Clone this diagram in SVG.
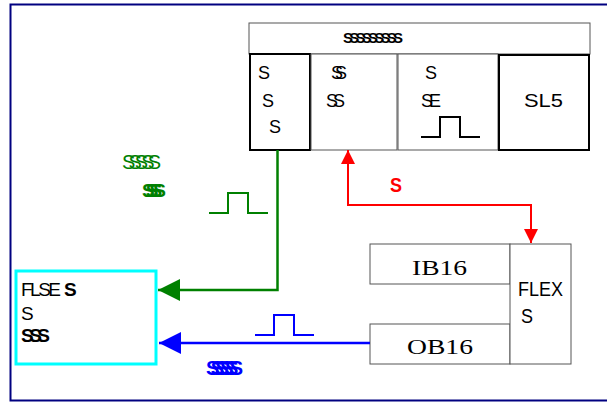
<svg xmlns="http://www.w3.org/2000/svg" width="607" height="402" viewBox="0 0 607 402">
<style>
text{font-family:"Liberation Sans",Arial,sans-serif}
.thick{fill:#fff;stroke:#000;stroke-width:2}
.gr{fill:#fff;stroke:#555;stroke-width:1}
.serif{font-family:"Liberation Serif","Times New Roman",serif}
</style>
<defs>
<marker id="ag" viewBox="0 0 10 10" refX="10" refY="5" markerWidth="23" markerHeight="22" markerUnits="userSpaceOnUse" orient="auto"><path d="M0,0L10,5L0,10z" fill="#008000"/></marker>
<marker id="ab" viewBox="0 0 10 10" refX="10" refY="5" markerWidth="23" markerHeight="22" markerUnits="userSpaceOnUse" orient="auto"><path d="M0,0L10,5L0,10z" fill="#0000ff"/></marker>
<marker id="ar" viewBox="0 0 10 10" refX="10" refY="5" markerWidth="15" markerHeight="14" markerUnits="userSpaceOnUse" orient="auto"><path d="M0,0L10,5L0,10z" fill="#ff0000"/></marker>
<marker id="ar2" viewBox="0 0 10 10" refX="0" refY="5" markerWidth="15" markerHeight="14" markerUnits="userSpaceOnUse" orient="auto"><path d="M10,0L0,5L10,10z" fill="#ff0000"/></marker>
</defs>
<rect width="607" height="402" fill="#fff"/>
<path d="M607,4.5H10.5V400.5H607" fill="none" stroke="#000080" stroke-width="2"/>

<g id="topbox">
<rect class="gr" x="249" y="23" width="341" height="31"/>
<text x="343" y="43" font-size="15" font-weight="bold" textLength="60">SSSSSSSSS</text>
</g>
<g id="cell1">
<rect class="thick" x="250" y="54" width="60" height="96"/>
<text x="258" y="79" font-size="18">S</text>
<text x="262" y="107" font-size="18">S</text>
<text x="269" y="133" font-size="18">S</text>
</g>
<g id="cell2">
<rect class="gr" x="311" y="54" width="86" height="96"/>
<text x="331" y="79" font-size="18" textLength="16">SS</text>
<text x="326" y="107" font-size="18" textLength="19">SS</text>
</g>
<g id="cell3">
<rect class="gr" x="398" y="54" width="100" height="96"/>
<text x="425" y="79" font-size="18">S</text>
<text x="421" y="107" font-size="18" textLength="20">SE</text>
<path d="M421,137H440V117H460V137H480" fill="none" stroke="#000" stroke-width="2"/>
</g>
<g id="sl5">
<rect class="thick" x="499" y="55" width="90" height="95"/>
<text x="524" y="107" font-size="18" textLength="39" lengthAdjust="spacingAndGlyphs">SL5</text>
</g>

<g id="flexbox">
<rect x="16" y="271" width="140" height="93" fill="#fff" stroke="#00ffff" stroke-width="3"/>
<text x="21" y="296" font-size="19" textLength="40">FLSE</text>
<text x="64" y="296" font-size="19" font-weight="bold">S</text>
<text x="21" y="320" font-size="19">S</text>
<text x="21" y="342" font-size="19" font-weight="bold" textLength="29">SSS</text>
</g>

<g id="ib16">
<rect class="gr" x="370" y="244" width="140" height="40"/>
<text class="serif" x="412" y="275" font-size="21" textLength="55" lengthAdjust="spacingAndGlyphs">IB16</text>
</g>
<g id="ob16">
<rect class="gr" x="370" y="324" width="140" height="40"/>
<text class="serif" x="407" y="354" font-size="21" textLength="66" lengthAdjust="spacingAndGlyphs">OB16</text>
</g>
<g id="flex">
<rect class="gr" x="510" y="244" width="61" height="120"/>
<text x="518" y="296" font-size="21" textLength="45" lengthAdjust="spacingAndGlyphs">FLEX</text>
<text x="521" y="323" font-size="21" textLength="12" lengthAdjust="spacingAndGlyphs">S</text>
</g>

<g id="connectors">
<path d="M277.5,150V290H158" fill="none" stroke="#008000" stroke-width="2.5" marker-end="url(#ag)"/>
<path d="M370,343H159" fill="none" stroke="#0000ff" stroke-width="2.5" marker-end="url(#ab)"/>
<path d="M348,150V205H531V243" fill="none" stroke="#ff0000" stroke-width="2" marker-start="url(#ar2)" marker-end="url(#ar)"/>
</g>

<g id="labels">
<path d="M209,213H228V193H248V213H268" fill="none" stroke="#008000" stroke-width="2"/>
<path d="M255,335H274V315H294V335H314" fill="none" stroke="#0000ff" stroke-width="2"/>
<text x="122" y="169" font-size="20" fill="#008000" textLength="39">SSSSS</text>
<text x="142" y="197" font-size="19" fill="#008000" font-weight="bold" textLength="24">SSSS</text>
<text x="390" y="192" font-size="21" font-weight="bold" fill="#ff0000" textLength="12" lengthAdjust="spacingAndGlyphs">S</text>
<text x="206" y="375" font-size="20" font-weight="bold" fill="#0000ff" textLength="37">SSSSSS</text>
</g>
</svg>
